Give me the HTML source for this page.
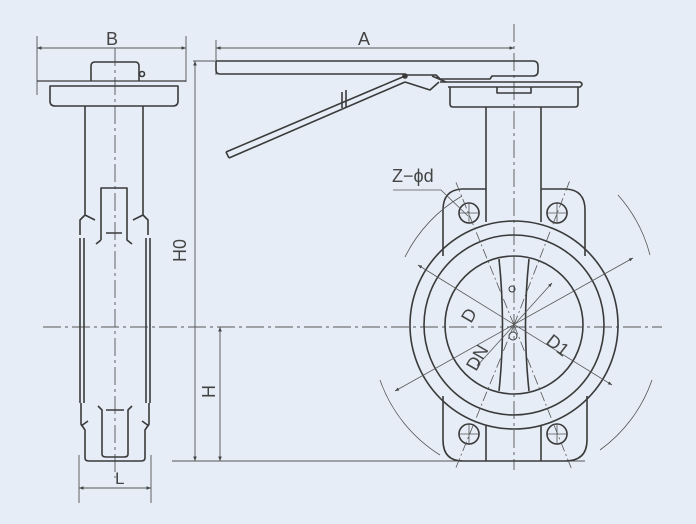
<!DOCTYPE html>
<html><head><meta charset="utf-8"><style>
html,body{margin:0;padding:0;background:#e6edf6;}
svg{display:block}
text{font-family:"Liberation Sans",sans-serif;fill:#444;}
</style></head><body>
<svg width="696" height="524" viewBox="0 0 696 524" xmlns="http://www.w3.org/2000/svg">
<defs>
<marker id="ar" viewBox="0 0 10 10" refX="10" refY="5" markerWidth="7" markerHeight="5" orient="auto-start-reverse"><path d="M0,1 L10,5 L0,9z" fill="#444"/></marker>
</defs>
<rect width="696" height="524" fill="#e6edf6"/>
<g fill="none" stroke="#555" stroke-width="0.9">
<!-- centerlines -->
<path d="M43 327 H662" stroke-dasharray="18 4 3 4"/>
<path d="M115 48 V478" stroke-dasharray="18 4 3 4"/>
<path d="M514 24 V470" stroke-dasharray="18 4 3 4"/>
<!-- bottom line -->
<path d="M172 461 H585"/>
<!-- H0 -->
<path d="M193 61 H215"/>
<path d="M195 61 V461" marker-start="url(#ar)" marker-end="url(#ar)"/>
<path d="M220 327 V461" marker-start="url(#ar)" marker-end="url(#ar)"/>
<!-- B dim -->
<path d="M37 36 V95 M186 36 V82"/>
<path d="M37 48 H186" marker-start="url(#ar)" marker-end="url(#ar)"/>
<!-- L dim -->
<path d="M79 455 V503 M151 455 V503"/>
<path d="M79 488 H151" marker-start="url(#ar)" marker-end="url(#ar)"/>
<!-- A dim -->
<path d="M216 40 V75"/>
<path d="M216 48 H514" marker-start="url(#ar)" marker-end="url(#ar)"/>
</g>
<g fill="none" stroke="#3a3a3a" stroke-width="1.6" stroke-linejoin="round">
<!-- left view -->
<path d="M91 81 V66 Q91 62 95 62 H135 Q139 62 139 66 V81"/>
<circle cx="142" cy="74" r="2.5"/>
<path d="M37 81 H186" stroke-width="1.2"/>
<path d="M50 86 H178 V101 Q178 106 173 106 H55 Q50 106 50 101 Z"/>
<path d="M85 106 V215 L80 220 V235 M85 215 L95 220"/>
<path d="M143 106 V215 L148 220 V235 M143 215 L133 220"/>
<path d="M101 240 L96 244 M101 240 V188 H127 V240 L132 244 M106 233 H122"/>
<path d="M80 238 V403 M84 238 V403 M146 238 V403 M150 238 V403"/>
<path d="M81 403 V424 L85 430 V458 Q85 461 89 461 H141 Q145 461 145 458 V430 L149 424 V403"/>
<path d="M81 426 L88 421 M149 426 L142 421"/>
<path d="M98 406 L102 410 V454 Q102 457 106 457 H124 Q128 457 128 454 V410 L132 406 M106 410 H124"/>
<!-- handle -->
<path d="M216 61 H533 Q538 61 538 66 V71 Q538 76 533 76 H492 L490 79 H440 L436 75 H405"/>
<path d="M216 61 V70 Q216 74 220 74 H405"/>
<path d="M226 152 L405 76 M229 158 L405 82 M226 152 L229 158"/>
<circle cx="405" cy="76" r="2" fill="#3a3a3a"/>
<path d="M405 82 L430 90 L439 82 M432 76 L446 82"/>
<path d="M342 92 V108 M346 90 V108"/>
<!-- top plate -->
<path d="M440 82 H580 Q584 84 580 87 H448"/>
<path d="M450 87 V104 Q450 107 453 107 H575 Q578 107 578 104 V87"/>
<path d="M497 87 V93 H531 V87"/>
<!-- neck -->
<path d="M486 107 V222 M541 107 V222"/>
<!-- lugs -->
<path d="M443 256 V210 Q443 190 462 189 H486"/>
<path d="M585 256 V210 Q585 190 566 189 H541"/>
<path d="M443 396 V440 Q443 461 463 461 H565 Q587 461 587 440 V396"/>
<path d="M486 425 V461 M541 425 V461"/>
<!-- circles -->
<circle cx="514" cy="325" r="104"/>
<circle cx="514" cy="325" r="90"/>
<circle cx="514" cy="325" r="69"/>
<path d="M499 259 Q506 325 499 391 M529 259 Q522 325 529 391"/>
<circle cx="469" cy="213" r="10"/><circle cx="557" cy="213" r="10"/>
<circle cx="469" cy="434" r="10"/><circle cx="557" cy="434" r="10"/>
<circle cx="512" cy="289" r="3" stroke-width="1"/>
<circle cx="513" cy="336" r="4" stroke-width="1"/>
</g>
<g fill="none" stroke="#555" stroke-width="0.8">
<path d="M458 213 H480 M469 202 V224 M546 213 H568 M557 202 V224 M458 434 H480 M469 423 V445 M546 434 H568 M557 423 V445"/>
<path d="M514 325 L455 180 M514 325 L570 180 M514 325 L455 470 M514 325 L572 470" stroke-dasharray="10 3 2 3"/>
<path d="M405 257 A145 145 0 0 1 462 196 M618 195 A145 145 0 0 1 650 255 M380 380 A145 145 0 0 0 440 455 M652 380 A145 145 0 0 1 600 450" />
<path d="M418 265 L612 385" marker-start="url(#ar)" marker-end="url(#ar)"/>
<path d="M395 391 L633 258" marker-start="url(#ar)" marker-end="url(#ar)"/>
<path d="M477 366 L552 283" marker-start="url(#ar)" marker-end="url(#ar)"/>
<path d="M393 190 H441 L468 216"/>
</g>
<g font-size="18">
<text x="106" y="45">B</text>
<text x="358" y="45">A</text>
<text x="115" y="484" font-size="17">L</text>
<text x="392" y="182">Z−ϕd</text>
<text transform="translate(186 262) rotate(-90)">H0</text>
<text transform="translate(215 398) rotate(-90)">H</text>
<text transform="translate(471 324) rotate(-60)">D</text>
<text transform="translate(476 372) rotate(-60)">DN</text>
<text transform="translate(545 343) rotate(38)">D1</text>
</g>
</svg>
</body></html>
